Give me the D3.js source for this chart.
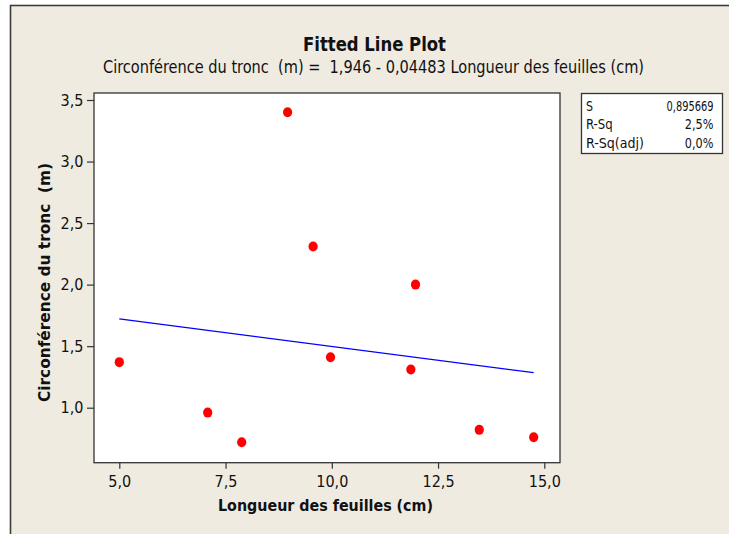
<!DOCTYPE html>
<html>
<head>
<meta charset="utf-8">
<script src="https://cdn.jsdelivr.net/npm/d3@7"></script>
<style>
  body { margin: 0; background: #fff; }
  text { font-family: "DejaVu Sans Condensed", "DejaVu Sans", sans-serif; font-stretch: condensed; fill: #111; }
</style>
</head>
<body>
<div id="chart"></div>
<script>
// Data ------------------------------------------------------
const leafLength = [5.0, 7.08, 7.88, 8.96, 9.56, 9.97, 11.86, 11.97, 13.47, 14.75]
const trunkCirc  = [1.37, 0.96, 0.72, 3.40, 2.31, 1.41, 1.31, 2.00, 0.82, 0.76]
const xTicks = [5, 7.5, 10, 12.5, 15]
const yTicks = [1, 1.5, 2, 2.5, 3, 3.5]
const fitIntercept = 1.946
const fitSlope = -0.04483
const statLabels = ["S", "R-Sq", "R-Sq(adj)"]
const statValues = ["0,895669", "2,5%", "0,0%"]

const points = leafLength.map((x, i) => ({x: x, y: trunkCirc[i]}))

// Canvas ----------------------------------------------------
const W = 729, H = 534
const FRAME = {LEFT: 94, RIGHT: 560, TOP: 93, BOTTOM: 462.7}

const svg = d3.select("#chart").append("svg")
    .attr("width", W)
    .attr("height", H)

// outer panel (runs off the right/bottom edge)
svg.append("rect")
    .attr("x", 10.5).attr("y", 5.5)
    .attr("width", W + 20).attr("height", H + 20)
    .attr("fill", "#efebe1")
    .attr("stroke", "#3c3c3c")
    .attr("stroke-width", 1.6)

// Scales ----------------------------------------------------
const fr = d3.formatLocale({decimal: ",", thousands: " ", grouping: [3], currency: ["", ""]})
const fmt = fr.format(".1f")

const xScale = d3.scaleLinear().domain([5, 15]).range([119.3, 544.3])
const yScale = d3.scaleLinear().domain([1, 3.5]).range([407.7, 100])

// plot area
svg.append("rect")
    .attr("x", FRAME.LEFT).attr("y", FRAME.TOP)
    .attr("width", FRAME.RIGHT - FRAME.LEFT)
    .attr("height", FRAME.BOTTOM - FRAME.TOP)
    .attr("fill", "#fff")
    .attr("stroke", "#333")
    .attr("stroke-width", 1.3)

// Axes ------------------------------------------------------
const xAxis = svg.append("g")
    .attr("transform", `translate(0,${FRAME.BOTTOM})`)
    .call(d3.axisBottom(xScale).tickValues(xTicks).tickFormat(fmt).tickSize(6).tickPadding(6.5))
const yAxis = svg.append("g")
    .attr("transform", `translate(${FRAME.LEFT},0)`)
    .call(d3.axisLeft(yScale).tickValues(yTicks).tickFormat(fmt).tickSize(7).tickPadding(3.5))

for (const ax of [xAxis, yAxis]) {
  ax.select(".domain").remove()
  ax.selectAll(".tick line").attr("stroke", "#333").attr("stroke-width", 1.2)
  ax.selectAll(".tick text")
    .attr("fill", "#111")
    .style("font-family", '"DejaVu Sans Condensed", "DejaVu Sans", sans-serif')
    .style("font-size", "16px")
}

// Marks -----------------------------------------------------
const xExt = d3.extent(leafLength)
const line = d3.line()
    .x(d => xScale(d))
    .y(d => yScale(fitIntercept + fitSlope * d))

svg.append("path")
    .attr("d", line(xExt))
    .attr("fill", "none")
    .attr("stroke", "#0000ff")
    .attr("stroke-width", 1.3)

svg.append("g").selectAll("ellipse")
  .data(points)
  .join("ellipse")
    .attr("cx", d => xScale(d.x))
    .attr("cy", d => yScale(d.y))
    .attr("rx", 4.6)
    .attr("ry", 5)
    .attr("fill", "#ff0000")

// Titles ----------------------------------------------------
svg.append("text")
    .attr("x", 374.5).attr("y", 51)
    .attr("text-anchor", "middle")
    .attr("font-weight", "bold")
    .attr("font-size", 19)
    .attr("textLength", 143)
    .attr("lengthAdjust", "spacingAndGlyphs")
    .text("Fitted Line Plot")

svg.append("text")
    .attr("x", 373.5).attr("y", 73.3)
    .attr("text-anchor", "middle")
    .attr("font-size", 17)
    .attr("textLength", 541)
    .attr("lengthAdjust", "spacingAndGlyphs")
    .attr("xml:space", "preserve")
    .text("Circonférence du tronc  (m) =  1,946 - 0,04483 Longueur des feuilles (cm)")

svg.append("text")
    .attr("x", 325.5).attr("y", 510.7)
    .attr("text-anchor", "middle")
    .attr("font-weight", "bold")
    .attr("font-size", 16.5)
    .attr("textLength", 215)
    .attr("lengthAdjust", "spacingAndGlyphs")
    .text("Longueur des feuilles (cm)")

svg.append("text")
    .attr("transform", "translate(50,282.5) rotate(-90)")
    .attr("text-anchor", "middle")
    .attr("font-weight", "bold")
    .attr("font-size", 16.5)
    .attr("textLength", 239)
    .attr("lengthAdjust", "spacingAndGlyphs")
    .attr("xml:space", "preserve")
    .text("Circonférence du tronc  (m)")

// Stats box -------------------------------------------------
svg.append("rect")
    .attr("x", 581.5).attr("y", 93.5)
    .attr("width", 141).attr("height", 60)
    .attr("fill", "#fff")
    .attr("stroke", "#333")
    .attr("stroke-width", 1.3)

const labelW = [7, 26.7, 58]
const valueW = [47, 28.7, 28.7]
statLabels.forEach((s, i) => {
  svg.append("text")
      .attr("x", 586).attr("y", 110.5 + i * 18.7)
      .attr("font-size", 14)
      .attr("textLength", labelW[i])
      .attr("lengthAdjust", "spacingAndGlyphs")
      .text(s)
  svg.append("text")
      .attr("x", 713.5 - valueW[i]).attr("y", 110.5 + i * 18.7)
      .attr("font-size", 14)
      .attr("textLength", valueW[i])
      .attr("lengthAdjust", "spacingAndGlyphs")
      .text(statValues[i])
})
</script>
</body>
</html>
